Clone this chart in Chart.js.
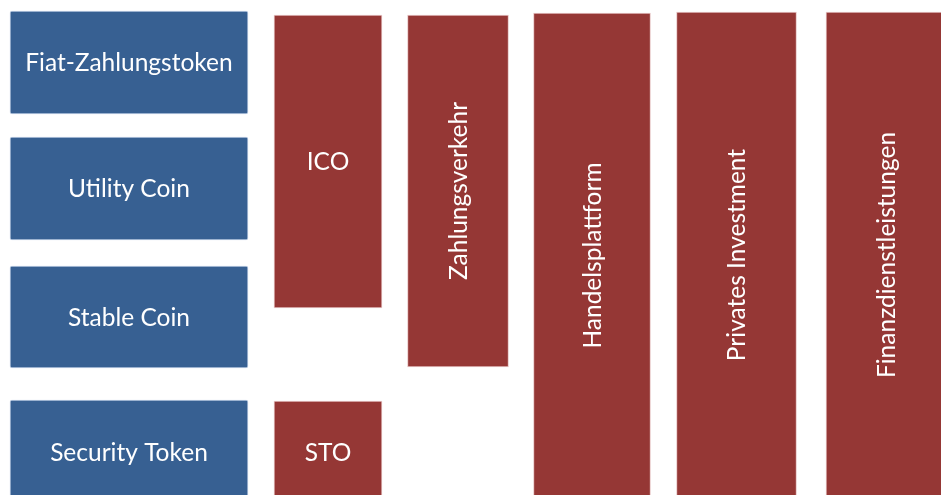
<!DOCTYPE html>
<html>
<head>
<meta charset="utf-8">
<script src="https://cdn.jsdelivr.net/npm/chart.js@4.4.1/dist/chart.umd.min.js"></script>
<style>
  html, body { margin: 0; padding: 0; background: #ffffff; }
  #wrap { width: 941px; height: 495px; }
</style>
</head>
<body>
<div id="wrap"><canvas id="chart"></canvas></div>
<script>
// Token-Arten (linke Spalte)
const tokenLabels = ['Fiat-Zahlungstoken', 'Utility Coin', 'Stable Coin', 'Security Token'];
const tokenRanges = [[11, 114], [137, 240], [266, 368], [400, 504]];

// Angebotsformen
const offerLabels = ['ICO', 'STO'];
const offerRanges = [[15, 308], [401, 504]];

// Anwendungsfelder (senkrechte Balken)
const useLabels = ['Zahlungsverkehr', 'Handelsplattform', 'Privates Investment', 'Finanzdienstleistungen'];
const useRanges = [[15, 367], [13, 498], [12, 498], [12, 498]];

// Spaltenlayout (Mitte und Breite in Einheiten der x-Achse)
const layout = {
  token: { center: 129, width: 238 },
  offer: { center: 328, width: 108 },
  use: [
    { center: 458, width: 101 },
    { center: 592, width: 117 },
    { center: 736.5, width: 120 },
    { center: 886, width: 120 }
  ]
};

const BLUE = '#376092';
const RED = '#953735';

const datasets = [];
datasets.push({
  labels: tokenLabels,
  vertical: false,
  data: tokenRanges.map(r => ({ x: layout.token.center, y: r })),
  backgroundColor: BLUE,
  borderColor: 'rgba(150,175,210,0.6)',
  borderWidth: 1,
  borderSkipped: false,
  borderRadius: 2,
  barThickness: layout.token.width
});
datasets.push({
  labels: offerLabels,
  vertical: false,
  data: offerRanges.map(r => ({ x: layout.offer.center, y: r })),
  backgroundColor: RED,
  borderColor: 'rgba(215,160,160,0.6)',
  borderWidth: 1,
  borderSkipped: false,
  barThickness: layout.offer.width
});
useLabels.forEach((lbl, i) => {
  datasets.push({
    labels: [lbl],
    vertical: true,
    data: [{ x: layout.use[i].center, y: useRanges[i] }],
    backgroundColor: RED,
    borderColor: 'rgba(215,160,160,0.6)',
    borderWidth: 1,
    borderSkipped: false,
    barThickness: layout.use[i].width
  });
});

// Beschriftung in die Kästen schreiben
const boxText = {
  id: 'boxText',
  afterDatasetsDraw(chart) {
    const ctx = chart.ctx;
    ctx.save();
    ctx.fillStyle = '#ffffff';
    ctx.font = '24.5px Lato, "Open Sans", sans-serif';
    ctx.textAlign = 'center';
    ctx.textBaseline = 'middle';
    chart.data.datasets.forEach((ds, di) => {
      chart.getDatasetMeta(di).data.forEach((bar, i) => {
        const p = bar.getProps(['x', 'y', 'base'], true);
        const cy = (p.y + p.base) / 2;
        ctx.save();
        ctx.translate(p.x, cy);
        if (ds.vertical) ctx.rotate(-Math.PI / 2);
        ctx.fillText(ds.labels[i], 0, 1);
        ctx.restore();
      });
    });
    ctx.restore();
  }
};

new Chart(document.getElementById('chart'), {
  type: 'bar',
  data: { datasets: datasets },
  options: {
    responsive: true,
    maintainAspectRatio: false,
    animation: false,
    layout: { padding: 0 },
    datasets: { bar: { grouped: false } },
    plugins: { legend: { display: false }, tooltip: { enabled: false } },
    scales: {
      x: { type: 'linear', min: 0, max: 941, offset: false, display: false },
      y: { type: 'linear', min: 0, max: 495, reverse: true, display: false }
    }
  },
  plugins: [boxText]
});
</script>
</body>
</html>
